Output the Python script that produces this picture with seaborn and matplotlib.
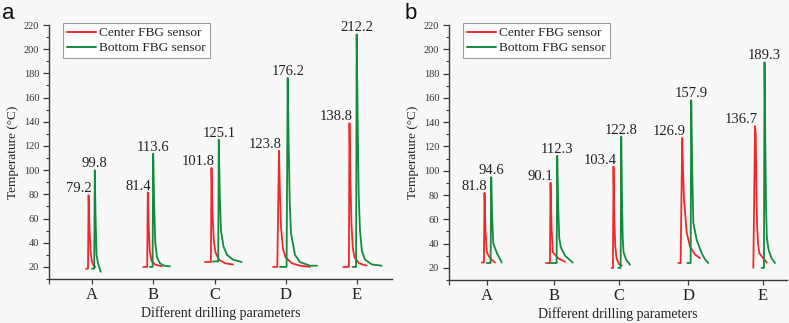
import matplotlib
matplotlib.use('Agg')
import matplotlib.pyplot as plt
import numpy as np
import pandas as pd
import seaborn as sns
from matplotlib.ticker import MultipleLocator

# ---------------- data ----------------
params = ['A', 'B', 'C', 'D', 'E']
sensors = ['Center FBG sensor', 'Bottom FBG sensor']

# time axis (arbitrary units) positions of the drilling-parameter labels
a_param_pos = [42.7, 103.7, 166.0, 236.7, 307.7]
b_param_pos = [38.3, 105.3, 170.3, 239.3, 313.7]

# peak annotations
a_center_peak = [79.2, 81.4, 101.8, 123.8, 138.8]
a_bottom_peak = [99.8, 113.6, 125.1, 176.2, 212.2]
b_center_peak = [81.8, 90.1, 103.4, 126.9, 136.7]
b_bottom_peak = [94.6, 112.3, 122.8, 157.9, 189.3]

# panel a: temperature curves (time, temperature) per drilling parameter
a_center_time = [
    [37.0, 39.0, 39.6, 40.6, 41.6, 42.8, 44.5, 46.5],
    [94.3, 98.2, 98.8, 99.8, 100.8, 102.5, 106.0, 112.7],
    [156.0, 161.9, 162.5, 163.5, 164.8, 166.5, 170.0, 176.0, 184.0],
    [224.0, 228.3, 230.0, 231.0, 232.0, 234.0, 236.5, 243.0, 251.0, 261.0],
    [294.3, 299.9, 300.5, 301.5, 302.5, 303.8, 305.5, 310.0, 317.7],
]
a_center_temp = [
    [18.5, 18.5, 79.2, 50.0, 33.0, 25.0, 21.0, 20.0],
    [20.0, 20.0, 81.4, 52.0, 33.0, 25.0, 22.0, 20.5],
    [24.0, 24.0, 101.8, 65.0, 42.0, 32.0, 26.0, 23.0, 22.0],
    [20.0, 20.0, 116.0, 80.0, 53.0, 35.0, 28.0, 23.0, 21.0, 20.0],
    [20.0, 20.0, 138.8, 90.0, 55.0, 36.0, 28.0, 23.0, 21.0],
]
a_bottom_time = [
    [43.0, 45.2, 45.8, 46.6, 47.5, 49.0, 51.7],
    [101.0, 103.6, 104.2, 105.2, 106.3, 108.0, 111.0, 115.0, 121.0],
    [164.0, 169.2, 169.8, 170.8, 172.0, 174.5, 178.0, 184.0, 192.7],
    [231.0, 237.6, 238.7, 239.7, 240.7, 242.0, 246.0, 251.0, 261.0, 268.0],
    [303.7, 307.1, 307.7, 308.7, 309.7, 311.0, 313.0, 316.0, 323.0, 332.7],
]
a_bottom_temp = [
    [18.5, 18.5, 99.8, 60.0, 30.0, 23.0, 16.0],
    [20.0, 20.0, 113.6, 70.0, 40.0, 28.0, 23.0, 21.0, 20.5],
    [24.5, 24.5, 125.1, 80.0, 50.0, 37.0, 30.0, 26.0, 24.0],
    [20.0, 20.0, 176.2, 120.0, 75.0, 48.0, 30.0, 24.0, 21.0, 21.0],
    [20.0, 20.0, 212.2, 140.0, 80.0, 50.0, 33.0, 26.0, 22.0, 21.0],
]

# panel b
b_center_time = [
    [32.7, 34.9, 35.5, 36.5, 37.7, 41.0, 46.0],
    [97.0, 100.9, 101.5, 102.5, 103.7, 109.0, 116.0],
    [162.7, 163.9, 164.5, 165.3, 166.2, 167.5, 170.0, 172.7],
    [229.3, 231.6, 233.2, 234.0, 235.0, 237.7, 241.0, 246.0, 251.0],
    [304.3, 306.0, 306.7, 307.3, 308.0, 309.0, 310.3, 317.7],
]
b_center_temp = [
    [24.4, 24.4, 81.8, 50.0, 33.0, 28.0, 24.4],
    [24.0, 24.0, 90.1, 55.0, 33.0, 28.0, 25.0],
    [20.0, 20.0, 103.4, 60.0, 38.0, 28.0, 23.0, 22.0],
    [24.0, 24.0, 126.9, 100.0, 76.0, 49.0, 37.5, 31.0, 28.0],
    [20.0, 136.7, 130.0, 90.0, 55.0, 40.0, 32.0, 24.4],
]
b_bottom_time = [
    [37.7, 41.6, 42.2, 43.2, 44.3, 48.0, 52.7],
    [101.0, 107.6, 108.2, 109.2, 110.2, 111.7, 116.0, 123.7],
    [169.3, 171.6, 172.2, 173.0, 173.7, 174.5, 177.0, 181.0],
    [238.3, 241.6, 242.2, 243.2, 244.3, 247.7, 252.7, 256.0, 259.3],
    [312.7, 314.9, 315.5, 316.3, 317.0, 317.8, 319.5, 322.5, 326.0],
]
b_bottom_temp = [
    [24.0, 24.0, 94.6, 60.0, 40.0, 32.0, 24.4],
    [24.0, 24.0, 112.3, 70.0, 45.0, 37.0, 30.0, 24.4],
    [20.0, 20.0, 128.0, 75.0, 45.0, 33.0, 27.0, 22.5],
    [24.0, 24.0, 157.9, 100.0, 57.0, 43.0, 32.0, 27.0, 24.0],
    [20.0, 20.0, 189.3, 120.0, 70.0, 45.0, 35.0, 28.0, 24.0],
]


def build_frame(center_t, center_T, bottom_t, bottom_T):
    rows = []
    for sensor, ts, Ts in ((sensors[0], center_t, center_T), (sensors[1], bottom_t, bottom_T)):
        for p, t, T in zip(params, ts, Ts):
            for i, (ti, Ti) in enumerate(zip(t, T)):
                rows.append(dict(param=p, sensor=sensor, time=ti, temp=Ti, order=i))
    return pd.DataFrame(rows)


df_a = build_frame(a_center_time, a_center_temp, a_bottom_time, a_bottom_temp)
df_b = build_frame(b_center_time, b_center_temp, b_bottom_time, b_bottom_temp)

# ---------------- style ----------------
sns.set_theme(style='ticks')
plt.rcParams['font.family'] = ['Liberation Serif', 'DejaVu Serif']

RED = '#f0282a'
GREEN = '#138a3c'
AX_COLOR = '#3a3a3a'
BG = '#f8f8f8'
palette = {sensors[0]: RED, sensors[1]: GREEN}

fig = plt.figure(figsize=(7.89, 3.23), dpi=100, facecolor=BG)

panels = [
    dict(df=df_a, rect=[0.0621, 0.1362, 0.4347, 0.7864], xmax=343, pos=a_param_pos,
         cpk=a_center_peak, bpk=a_bottom_peak, letter='a', lx=0.003, ylx=-0.1064),
    dict(df=df_b, rect=[0.5691, 0.1331, 0.4284, 0.7895], xmax=338, pos=b_param_pos,
         cpk=b_center_peak, bpk=b_bottom_peak, letter='b', lx=0.513, ylx=-0.108),
]

for P in panels:
    ax = fig.add_axes(P['rect'])
    ax.set_facecolor('none')
    sns.lineplot(data=P['df'], x='time', y='temp', hue='sensor', units='param',
                 estimator=None, sort=False, hue_order=sensors, palette=palette,
                 linewidth=1.3, ax=ax)
    ax.set_xlim(0, P['xmax'])
    ax.set_ylim(10, 220)
    sns.despine(ax=ax)
    for s in ('left', 'bottom'):
        ax.spines[s].set_color(AX_COLOR)
        ax.spines[s].set_linewidth(1.0)

    ax.set_xticks(P['pos'])
    ax.set_xticklabels(params, fontsize=12, color='#222222')
    ax.set_xticks([0], minor=True)
    ax.set_yticks(np.arange(20, 221, 20))
    ax.yaxis.set_minor_locator(MultipleLocator(10))
    ax.tick_params(axis='y', which='major', length=4, width=0.9, pad=3,
                   labelsize=7.5, colors=AX_COLOR, labelcolor='#333333')
    ax.tick_params(axis='y', which='minor', length=2.2, width=0.8, colors=AX_COLOR)
    ax.tick_params(axis='x', which='major', length=3.5, width=0.9, pad=2.5,
                   colors=AX_COLOR, labelcolor='#222222')
    ax.tick_params(axis='x', which='minor', length=3.5, width=0.9, colors=AX_COLOR)

    ax.set_xlabel('Different drilling parameters', fontsize=10, color='#222222', labelpad=2)
    ax.set_ylabel('Temperature (°C)', fontsize=9.5, color='#222222')
    ax.yaxis.label.set_va('center')
    ax.yaxis.set_label_coords(P['ylx'], 0.5)

    # peak annotations anchored to the drawn peak of every curve
    df = P['df']
    for sensor, peaks in ((sensors[0], P['cpk']), (sensors[1], P['bpk'])):
        for p, val in zip(params, peaks):
            sub = df[(df.sensor == sensor) & (df.param == p)]
            top = sub.loc[sub.temp.idxmax()]
            if sensor == sensors[0]:
                ax.annotate(f'{val:.1f}', (top.time, top.temp), xytext=(3, 3),
                            textcoords='offset pixels', ha='right', va='baseline',
                            fontsize=10.5, color='#222222')
            else:
                ax.annotate(f'{val:.1f}', (top.time, top.temp), xytext=(0, 3),
                            textcoords='offset pixels', ha='center', va='baseline',
                            fontsize=10.5, color='#222222')

    handles, labels = ax.get_legend_handles_labels()
    leg = ax.legend(handles, labels, loc='upper left', bbox_to_anchor=(0.04, 1.008),
                    fontsize=9.6, frameon=True, fancybox=False, framealpha=1,
                    edgecolor='#9a9a9a', facecolor='white', handlelength=2.2,
                    handletextpad=0.25, borderpad=0.3, labelspacing=0.2,
                    borderaxespad=0.0, title=None)
    leg.get_frame().set_linewidth(0.8)
    for h in leg.get_lines():
        h.set_linewidth(1.4)

    fig.text(P['lx'], 0.99, P['letter'], fontsize=16, family='Liberation Sans',
             ha='left', va='top', color='#111111')

fig.savefig('out.png', dpi=100, facecolor=BG)
